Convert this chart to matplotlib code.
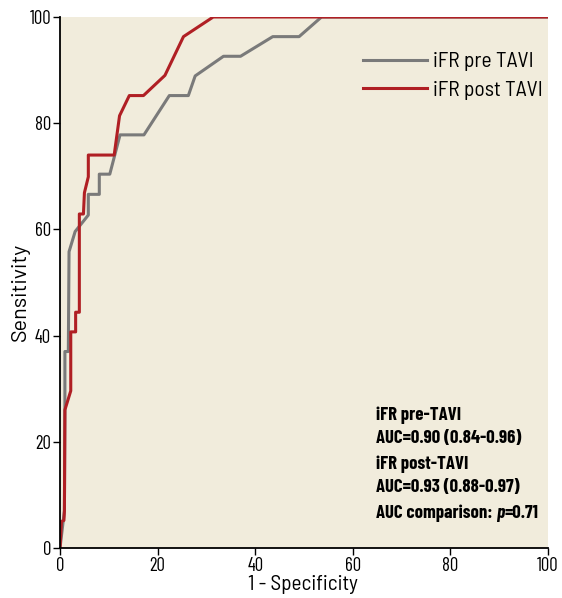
import matplotlib
matplotlib.use("Agg")
import matplotlib.pyplot as plt
from matplotlib.transforms import offset_copy

COND = ["Barlow Condensed", "DejaVu Sans"]
SEMI = ["Barlow Semi Condensed", "DejaVu Sans"]
WIDE = ["Barlow", "Barlow Semi Condensed", "DejaVu Sans"]

# Data (1 - specificity, sensitivity) in %
pre_x = [0, 0.9, 1.0, 1.0, 1.7, 1.85, 3.1, 5.8, 5.8, 8.05, 8.05, 10.2, 12.3, 17.2, 22.4, 26.3, 27.7, 33.5, 37.0, 43.6, 49.0, 53.6, 100]
pre_y = [0, 7, 26, 37, 37, 55.8, 59.6, 62.7, 66.6, 66.6, 70.4, 70.4, 77.8, 77.8, 85.2, 85.2, 88.9, 92.6, 92.6, 96.3, 96.3, 100, 100]
post_x = [0, 0.3, 0.8, 0.9, 1.0, 2.2, 2.2, 3.2, 3.2, 3.96, 3.96, 4.8, 5.0, 5.8, 5.8, 11.1, 12.2, 14.2, 17.1, 21.5, 25.3, 31.4, 100]
post_y = [0, 5, 5.2, 7, 26, 29.6, 40.7, 40.7, 44.4, 44.4, 62.9, 62.9, 66.9, 69.9, 74.0, 74.0, 81.4, 85.2, 85.2, 89.0, 96.3, 100, 100]

labels = ["iFR pre TAVI", "iFR post TAVI"]
colors = ["#7a7a7a", "#b01f24"]
ticks = [0, 20, 40, 60, 80, 100]
annot_lines = ["iFR pre-TAVI", "AUC=0.90 (0.84-0.96)", "iFR post-TAVI", "AUC=0.93 (0.88-0.97)"]
annot_y = [24.1, 19.8, 14.9, 10.5]
comp_y = 5.65

fig = plt.figure(figsize=(5.62, 5.98), dpi=100)
ax = fig.add_axes([0.1068, 0.0836, 0.975 - 0.1068, 0.9716 - 0.0836])
ax.set_facecolor("#f1ecdc")
ax.plot(pre_x, pre_y, color=colors[0], lw=2.2, label=labels[0])
ax.plot(post_x, post_y, color=colors[1], lw=2.2, label=labels[1])
ax.set_xlim(0, 100)
ax.set_ylim(0, 100)
ax.set_xticks(ticks)
ax.set_yticks(ticks)
for s in ["top", "right"]:
    ax.spines[s].set_visible(False)
for s in ["left", "bottom"]:
    ax.spines[s].set_linewidth(1.3)
ax.tick_params(direction="out", length=5, width=1, labelsize=13.5, pad=1.5)
for lab in ax.get_xticklabels() + ax.get_yticklabels():
    lab.set_family(COND)
ax.set_xlabel("1 - Specificity", fontsize=15.3, family=SEMI)
ax.xaxis.set_label_coords(0.498, -0.0515)
ax.set_ylabel("Sensitivity", fontsize=15.5, family=WIDE)
ax.yaxis.set_label_coords(-0.0615, 0.483)

ax.legend(loc="center left", bbox_to_anchor=(0.621, 0.889), frameon=False,
          borderpad=0, borderaxespad=0, handlelength=2.95, handletextpad=0.3,
          labelspacing=0.42, prop={"family": SEMI, "size": 15.5})

fs = 13.5
x0 = 64.75
for t, y in zip(annot_lines, annot_y):
    ax.text(x0, y, t, fontsize=fs, family=COND, fontweight="bold", va="baseline")

fig.canvas.draw()
r = fig.canvas.get_renderer()
t1 = ax.text(x0, comp_y, "AUC comparison: ", fontsize=fs, family=COND, fontweight="bold", va="baseline")
w1 = t1.get_window_extent(r).width
t2 = ax.text(x0, comp_y, "p", fontsize=fs, family=COND, fontweight="bold", fontstyle="italic",
             va="baseline", transform=offset_copy(ax.transData, fig=fig, x=w1, units="dots"))
w2 = t2.get_window_extent(r).width
ax.text(x0, comp_y, "=0.71", fontsize=fs, family=COND, fontweight="bold", va="baseline",
        transform=offset_copy(ax.transData, fig=fig, x=w1 + w2 + 0.5, units="dots"))

fig.savefig("out.png", dpi=100)
